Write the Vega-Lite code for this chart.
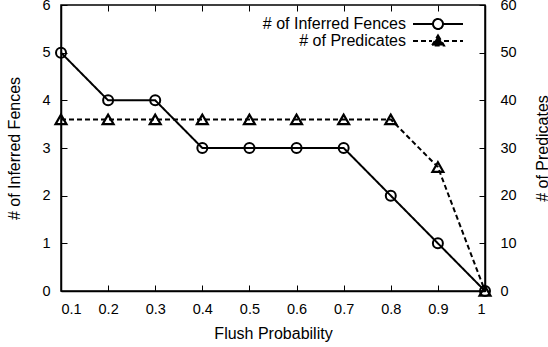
{
  "$schema": "https://vega.github.io/schema/vega-lite/v6.json",
  "autosize": {"type": "none"},
  "width": 424,
  "height": 286,
  "padding": {"left": 61, "top": 5, "right": 63, "bottom": 56},
  "background": "white",
  "config": {
    "font": "Liberation Sans",
    "view": {"stroke": "black", "strokeWidth": 1.5},
    "axis": {
      "domainColor": "black", "tickColor": "black", "labelColor": "black", "titleColor": "black",
      "grid": false, "labelFontSize": 14.5, "titleFontSize": 16, "titleFontWeight": "normal",
      "tickSize": -6, "tickWidth": 1, "domainWidth": 1.5
    },
    "legend": {"labelFontSize": 16, "labelColor": "black"}
  },
  "data": {
    "values": [
      {"p": 0.1, "fences": 5, "preds": 36},
      {"p": 0.2, "fences": 4, "preds": 36},
      {"p": 0.3, "fences": 4, "preds": 36},
      {"p": 0.4, "fences": 3, "preds": 36},
      {"p": 0.5, "fences": 3, "preds": 36},
      {"p": 0.6, "fences": 3, "preds": 36},
      {"p": 0.7, "fences": 3, "preds": 36},
      {"p": 0.8, "fences": 2, "preds": 36},
      {"p": 0.9, "fences": 1, "preds": 26},
      {"p": 1.0, "fences": 0, "preds": 0}
    ]
  },
  "layer": [
    {
      "layer": [
        {
          "mark": {"type": "line", "color": "black", "strokeWidth": 2},
          "encoding": {
            "x": {"field": "p", "type": "quantitative", "title": "Flush Probability",
              "scale": {"domain": [0.1, 1], "nice": false, "zero": false},
              "axis": {"values": [0.1,0.2,0.3,0.4,0.5,0.6,0.7,0.8,0.9,1], "format": "~g", "labelPadding": 17, "titlePadding": 10}},
            "y": {"field": "fences", "type": "quantitative", "title": "# of Inferred Fences",
              "scale": {"domain": [0, 6], "nice": false},
              "axis": {"values": [0,1,2,3,4,5,6], "labelPadding": 17, "titlePadding": 19}},
            "strokeDash": {"datum": "# of Inferred Fences", "type": "nominal",
              "scale": {"domain": ["# of Inferred Fences", "# of Predicates"], "range": [[1,0],[5,3]]},
              "legend": {
                "title": null, "orient": "none", "legendX": 369, "legendY": 11,
                "symbolSize": 100, "symbolStrokeWidth": 2, "symbolStrokeColor": "black",
                "symbolFillColor": "transparent", "labelAlign": "right", "labelOffset": -40,
                "rowPadding": -4, "padding": 0,
                "encode": {"symbols": {"update": {
                  "shape": {"signal": "datum.value === '# of Inferred Fences' ? 'M-5,0H-1M1,0H5M1,0A1,1 0 1,1 -1,0A1,1 0 1,1 1,0' : 'M-5,0H-1.2M1.2,0H5M0,-1.1L1.2,0.9L-1.2,0.9Z'"},
                  "fill": {"signal": "datum.value === '# of Inferred Fences' ? 'transparent' : 'black'"},
                  "stroke": {"value": "black"},
                  "strokeWidth": {"value": 2},
                  "size": {"value": 100},
                  "opacity": {"value": 1},
                  "strokeDash": {"signal": "datum.value === '# of Inferred Fences' ? [1,0] : [4,2]"}
                }}}
              }}
          }
        },
        {
          "mark": {"type": "point", "shape": "circle", "filled": false, "color": "black", "strokeWidth": 2, "size": 100, "opacity": 1},
          "encoding": {
            "x": {"field": "p", "type": "quantitative"},
            "y": {"field": "fences", "type": "quantitative"}
          }
        }
      ]
    },
    {
      "layer": [
        {
          "mark": {"type": "line", "color": "black", "strokeWidth": 2},
          "encoding": {
            "x": {"field": "p", "type": "quantitative", "axis": null},
            "y": {"field": "preds", "type": "quantitative", "title": "# of Predicates",
              "scale": {"domain": [0, 60], "nice": false},
              "axis": {"orient": "right", "values": [0,10,20,30,40,50,60], "labelPadding": 21, "titlePadding": 34, "titleAngle": 270}},
            "strokeDash": {"datum": "# of Predicates", "type": "nominal"}
          }
        },
        {
          "mark": {"type": "point", "shape": "triangle-up", "filled": false, "color": "black", "strokeWidth": 2.2, "size": 120, "opacity": 1},
          "encoding": {
            "x": {"field": "p", "type": "quantitative", "axis": null},
            "y": {"field": "preds", "type": "quantitative"}
          }
        }
      ]
    },
    {
      "mark": {"type": "rule", "opacity": 0},
      "encoding": {
        "x": {"field": "p", "type": "quantitative",
          "axis": {"orient": "top", "values": [0.1,0.2,0.3,0.4,0.5,0.6,0.7,0.8,0.9,1], "labels": false, "title": null, "domain": false}}
      }
    }
  ],
  "resolve": {"scale": {"y": "independent"}, "axis": {"x": "independent"}}
}
